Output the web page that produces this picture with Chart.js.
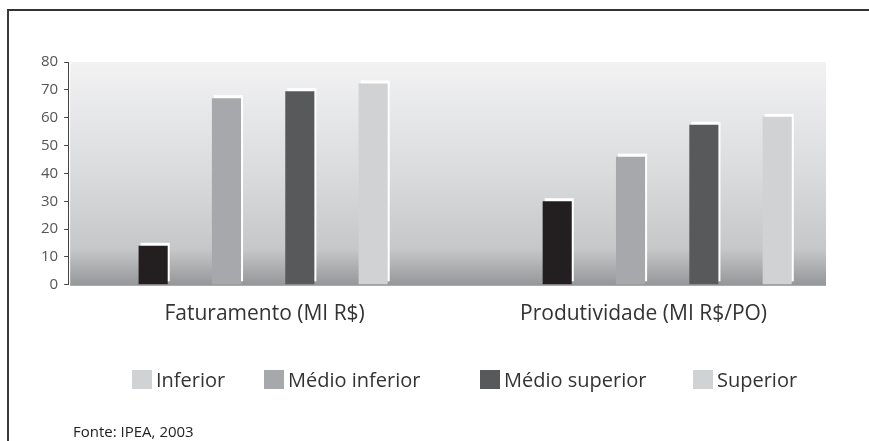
<!DOCTYPE html>
<html>
<head>
<meta charset="utf-8">
<title>Faturamento e produtividade</title>
<script src="https://cdn.jsdelivr.net/npm/chart.js@4.4.1/dist/chart.umd.min.js"></script>
<style>
  body { margin: 0; background: #fff; font-family: "Open Sans", sans-serif; }
  #quadro { position: absolute; left: 7px; top: 9px; right: 0; bottom: 0; border-top: 2px solid #333; border-left: 2px solid #3a3a3a; }
  #caixa { position: absolute; left: 0; top: 0; width: 869px; height: 441px; }
  #legenda .item { position: absolute; top: 370px; height: 20px; line-height: 20px; font-size: 20px; color: #333; white-space: nowrap; }
  #legenda .cor { display: inline-block; width: 20px; height: 19px; vertical-align: top; margin-right: 4px; }
  #fonte { position: absolute; left: 73px; top: 421px; font-size: 15px; color: #222; }
</style>
</head>
<body>
<div id="quadro"></div>
<div id="caixa"><canvas id="grafico"></canvas></div>
<div id="legenda"></div>
<div id="fonte">Fonte: IPEA, 2003</div>
<script>
var categorias = ["Faturamento (MI R$)", "Produtividade (MI R$/PO)"];
var series = ["Inferior", "Médio inferior", "Médio superior", "Superior"];
var inferior = [14, 30];
var medioInferior = [67, 46];
var medioSuperior = [69.5, 57.5];
var superior = [72.3, 60.3];
var ticksY = [0, 10, 20, 30, 40, 50, 60, 70, 80];

var coresBarras = ["#231f20", "#a7a8ab", "#58595b", "#d1d2d4"];
// o quadradinho de "Inferior" na legenda sai claro, igual ao de "Superior"
var coresLegenda = ["#d1d2d4", "#a7a8ab", "#58595b", "#d1d2d4"];
var posLegenda = [132, 264, 480, 693];

var valores = [inferior, medioInferior, medioSuperior, superior];

function pontos(lista) {
  return lista.map(function (v, i) { return { x: i, y: v }; });
}

// fundo em degradê da área do gráfico
var fundo = {
  id: "fundo",
  beforeDatasetsDraw: function (chart) {
    var a = chart.chartArea;
    var ctx = chart.ctx;
    var g = ctx.createLinearGradient(0, a.top, 0, a.bottom);
    g.addColorStop(0, "#f2f2f3");
    g.addColorStop(0.5, "#dadbdd");
    g.addColorStop(0.84, "#c6c7c9");
    g.addColorStop(1, "#96979a");
    ctx.save();
    ctx.fillStyle = g;
    ctx.fillRect(a.left + 2, a.top, a.right - a.left - 2, a.bottom - a.top + 1);
    // sombra branca atrás de cada barra
    ctx.fillStyle = "#ffffff";
    chart.data.datasets.forEach(function (ds, i) {
      chart.getDatasetMeta(i).data.forEach(function (b) {
        ctx.fillRect(b.x - b.width / 2 + 2, b.y - 3, b.width, b.base - b.y);
      });
    });
    ctx.restore();
  }
};

var ctx = document.getElementById("grafico").getContext("2d");
var chart = new Chart(ctx, {
  type: "bar",
  data: {
    labels: categorias,
    datasets: series.map(function (s, i) {
      return {
        label: s,
        data: pontos(valores[i]),
        xAxisID: "xb",
        backgroundColor: coresBarras[i],
        borderWidth: 0,
        categoryPercentage: 0.726,
        barPercentage: 0.397
      };
    })
  },
  options: {
    responsive: true,
    maintainAspectRatio: false,
    animation: false,
    layout: { padding: { left: 35, right: 43, top: 54, bottom: 105 } },
    plugins: { legend: { display: false }, tooltip: { enabled: false } },
    scales: {
      x: {
        type: "category",
        labels: categorias,
        grid: { display: false },
        border: { display: false },
        ticks: { color: "#333", font: { family: "Open Sans", size: 21 }, padding: 9, labelOffset: 7 }
      },
      xb: {
        type: "linear",
        position: "top",
        offset: false,
        bounds: "data",
        min: -0.4826,
        max: 1.393,
        grid: { display: false },
        border: { display: false },
        ticks: { display: false, padding: 0 },
        // só as duas categorias, para a largura das barras sair certa
        afterBuildTicks: function (scale) {
          scale.ticks = categorias.map(function (c, i) { return { value: i }; });
        }
      },
      y: {
        min: 0,
        max: 80,
        afterBuildTicks: function (scale) {
          scale.ticks = ticksY.map(function (v) { return { value: v }; });
        },
        grid: { drawOnChartArea: false, drawTicks: true, tickLength: 4, color: "#444" },
        border: { display: true, color: "#444", width: 1 },
        ticks: { color: "#555", font: { family: "Open Sans", size: 15 }, padding: 6 }
      }
    }
  },
  plugins: [fundo]
});

// legenda montada à mão (espaçamento irregular)
var legenda = document.getElementById("legenda");
series.forEach(function (s, i) {
  var item = document.createElement("div");
  item.className = "item";
  item.style.left = posLegenda[i] + "px";
  item.innerHTML = '<span class="cor" style="background:' + coresLegenda[i] + '"></span>' + s;
  legenda.appendChild(item);
});
</script>
</body>
</html>
